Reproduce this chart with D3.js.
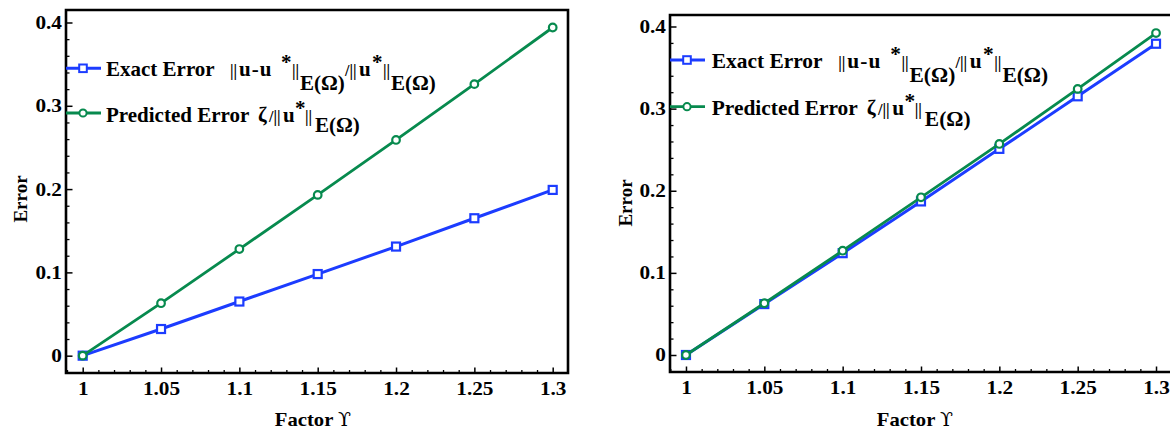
<!DOCTYPE html>
<html>
<head>
<meta charset="utf-8">
<script src="https://cdn.jsdelivr.net/npm/d3@7"></script>
<style>
  body { margin: 0; background: #fff; }
  text { font-family: "Liberation Serif", "Times New Roman", serif; font-weight: bold; fill: #000; }
</style>
</head>
<body>
<script>
// values
let factors = [1, 1.05, 1.1, 1.15, 1.2, 1.25, 1.3];
let factorLabels = ["1", "1.05", "1.1", "1.15", "1.2", "1.25", "1.3"];
let errorTicks = [0, 0.1, 0.2, 0.3, 0.4];
let errorLabels = ["0", "0.1", "0.2", "0.3", "0.4"];

let leftExact = [0, 0.032, 0.065, 0.098, 0.131, 0.165, 0.199];
let leftPredicted = [0, 0.063, 0.128, 0.193, 0.259, 0.326, 0.394];
let rightExact = [0, 0.062, 0.124, 0.187, 0.251, 0.315, 0.379];
let rightPredicted = [0, 0.063, 0.127, 0.192, 0.257, 0.324, 0.392];

let blue = "#1c3cff";
let green = "#078a4e";

let svg = d3.select("body")
  .append("svg")
    .attr("width", 1170)
    .attr("height", 429)
;

// panel boxes
let panels = [
  { left: 66, right: 568, top: 10, bottom: 373, xDom: [0.98934, 1.30977], yDom: [-0.0208, 0.415],
    exact: leftExact, predicted: leftPredicted, yTitleX: 27, yTitleY: 199, xTitleX: 313,
    legX: 66, legY1: 68.3, legY2: 113, textX: 106, base1: 76, base2: 121.7, legScale: 1 },
  { left: 670, right: 1172, top: 15, bottom: 372, xDom: [0.9898, 1.3102], yDom: [-0.0207, 0.414],
    exact: rightExact, predicted: rightPredicted, yTitleX: 632, yTitleY: 203, xTitleX: 915,
    legX: 670, legY1: 60, legY2: 106.7, textX: 711.7, base1: 68.3, base2: 115, legScale: 1.02 }
];

panels.forEach(drawPanel);

function drawPanel(p){
  let x = d3.scaleLinear().domain(p.xDom).range([p.left, p.right]);
  let y = d3.scaleLinear().domain(p.yDom).range([p.bottom, p.top]);

  let g = svg.append("g");

  // minor ticks (inside)
  let xMinor = d3.range(99, 131).map(d => d / 100).filter(d => Math.round(d * 100) % 5 != 0);
  let yMinor = d3.range(-1, 21).map(d => d / 50).filter(d => Math.round(d * 50) % 5 != 0);

  g.append("g")
    .attr("transform", "translate(0," + p.bottom + ")")
    .call(d3.axisBottom(x).tickValues(xMinor).tickSize(-3).tickFormat(""))
    .call(s => s.select(".domain").remove())
    .selectAll("line").attr("stroke-width", 1.3);

  g.append("g")
    .attr("transform", "translate(" + p.left + ",0)")
    .call(d3.axisLeft(y).tickValues(yMinor).tickSize(-3.5).tickFormat(""))
    .call(s => s.select(".domain").remove())
    .selectAll("line").attr("stroke-width", 1.3);

  // major ticks + labels
  let xAxis = g.append("g")
    .attr("transform", "translate(0," + p.bottom + ")")
    .call(d3.axisBottom(x).tickValues(factors).tickSize(-5.5).tickPadding(9)
      .tickFormat((d, i) => factorLabels[i]));
  xAxis.select(".domain").remove();
  xAxis.selectAll("line").attr("stroke-width", 1.5);
  xAxis.selectAll("text")
    .style("font-size", "18.5px")
    .attr("transform", "scale(1.15,1)");

  let yAxis = g.append("g")
    .attr("transform", "translate(" + p.left + ",0)")
    .call(d3.axisLeft(y).tickValues(errorTicks).tickSize(-6.5).tickPadding(3.5)
      .tickFormat((d, i) => errorLabels[i]));
  yAxis.select(".domain").remove();
  yAxis.selectAll("line").attr("stroke-width", 1.5);
  yAxis.selectAll("text")
    .style("font-size", "18.5px")
    .attr("transform", "scale(1.15,1)");

  // frame
  g.append("path")
    .attr("d", "M" + p.left + "," + p.bottom + "V" + p.top + "H" + p.right + "V" + p.bottom + "Z")
    .attr("fill", "none")
    .attr("stroke", "#000")
    .attr("stroke-width", 2.6);

  // lines
  let line = d3.line().x((d, i) => x(factors[i])).y(d => y(d));

  g.append("path").datum(p.exact)
    .attr("d", line).attr("fill", "none").attr("stroke", blue).attr("stroke-width", 3);
  g.selectAll(".sq").data(p.exact).enter()
    .append("rect")
      .attr("x", (d, i) => x(factors[i]) - 4)
      .attr("y", d => y(d) - 4)
      .attr("width", 8).attr("height", 8)
      .attr("fill", "#fff").attr("stroke", blue).attr("stroke-width", 2.2);

  g.append("path").datum(p.predicted)
    .attr("d", line).attr("fill", "none").attr("stroke", green).attr("stroke-width", 2.8);
  g.selectAll(".ci").data(p.predicted).enter()
    .append("circle")
      .attr("cx", (d, i) => x(factors[i]))
      .attr("cy", d => y(d))
      .attr("r", 3.8)
      .attr("fill", "#fff").attr("stroke", green).attr("stroke-width", 2.2);

  // axis titles
  g.append("text")
    .attr("transform", "translate(" + p.yTitleX + "," + p.yTitleY + ") rotate(-90)")
    .attr("text-anchor", "middle")
    .style("font-size", "19px")
    .text("Error");

  let xt = g.append("text")
    .attr("transform", "translate(" + p.xTitleX + ",426) scale(1.06,1)")
    .attr("text-anchor", "middle")
    .style("font-size", "19.5px");
  xt.append("tspan").text("Factor ");
  xt.append("tspan").attr("font-family", "DejaVu Serif").style("font-weight", "normal").style("font-size", "18px").text("ϒ");

  // legend
  g.append("line").attr("x1", p.legX).attr("x2", p.legX + 35).attr("y1", p.legY1).attr("y2", p.legY1)
    .attr("stroke", blue).attr("stroke-width", 3);
  g.append("rect").attr("x", p.legX + 17 - 3.8).attr("y", p.legY1 - 3.8).attr("width", 7.6).attr("height", 7.6)
    .attr("fill", "#fff").attr("stroke", blue).attr("stroke-width", 2);
  g.append("line").attr("x1", p.legX).attr("x2", p.legX + 35).attr("y1", p.legY2).attr("y2", p.legY2)
    .attr("stroke", green).attr("stroke-width", 2.8);
  g.append("circle").attr("cx", p.legX + 17).attr("cy", p.legY2).attr("r", 3.6)
    .attr("fill", "#fff").attr("stroke", green).attr("stroke-width", 2);

  // legend text, pieces placed along the line (offsets from the text start)
  let t1 = g.append("text")
    .attr("transform", "translate(" + p.textX + "," + p.base1 + ") scale(" + p.legScale + ",1)")
    .style("font-size", "21px");
  t1.append("tspan").attr("x", 0).text("Exact Error");
  t1.append("tspan").attr("x", 124).style("font-size", "16px").text("||");
  t1.append("tspan").attr("x", 133).attr("letter-spacing", 1).text("u-u");
  t1.append("tspan").attr("x", 175).attr("dy", -7).text("*");
  t1.append("tspan").attr("x", 186).attr("dy", 7).style("font-size", "16px").text("||");
  t1.append("tspan").attr("x", 194).attr("dy", 13.5).text("E(Ω)");
  t1.append("tspan").attr("x", 239).attr("dy", -13.5).style("font-size", "16px").text("/||");
  t1.append("tspan").attr("x", 253).text("u");
  t1.append("tspan").attr("x", 266).attr("dy", -7).text("*");
  t1.append("tspan").attr("x", 277).attr("dy", 7).style("font-size", "16px").text("||");
  t1.append("tspan").attr("x", 285).attr("dy", 13.5).text("E(Ω)");

  let t2 = g.append("text")
    .attr("transform", "translate(" + p.textX + "," + p.base2 + ") scale(" + p.legScale + ",1)")
    .style("font-size", "21px");
  t2.append("tspan").attr("x", 0).text("Predicted Error");
  t2.append("tspan").attr("x", 152).text("ζ");
  t2.append("tspan").attr("x", 163).style("font-size", "16px").text("/||");
  t2.append("tspan").attr("x", 177).text("u");
  t2.append("tspan").attr("x", 189).attr("dy", -7).text("*");
  t2.append("tspan").attr("x", 199).attr("dy", 7).style("font-size", "16px").text("||");
  t2.append("tspan").attr("x", 209).attr("dy", 10.5).text("E(Ω)");
}
</script>
</body>
</html>
